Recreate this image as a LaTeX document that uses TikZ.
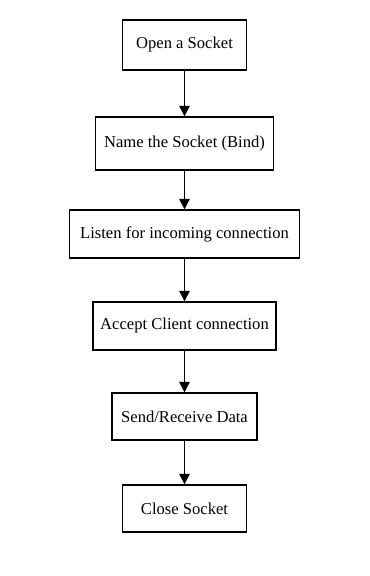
\documentclass[tikz,border=0pt]{standalone}
\usepackage{fontspec}
\setmainfont{Liberation Serif}
\usetikzlibrary{arrows.meta}

\tikzset{
  stepbox/.style={draw, rectangle, line width=1pt, minimum height=1.2cm, inner sep=2pt, font=\fontsize{11.8}{14}\selectfont},
  flow/.style={line width=1pt, -{Triangle[length=7.5pt,width=7.5pt]}}
}

\begin{document}
\begin{tikzpicture}
  \useasboundingbox (-4.6125,0) rectangle (4.6125,-14.4);
  \draw (0,-1.125) node[stepbox, minimum width=3.1cm, minimum height=1.25cm] (open) {Open a Socket};
  \draw (0,-3.5875) node[stepbox, minimum width=4.45cm, minimum height=1.325cm] (bind) {Name the Socket (Bind)};
  \draw (0,-5.85) node[stepbox, minimum width=5.75cm] (listen) {Listen for incoming connection};
  \draw (0,-8.15) node[stepbox, minimum width=4.575cm] (accept) {Accept Client connection};
  \draw (0,-10.4125) node[stepbox, minimum width=3.625cm, minimum height=1.175cm] (data) {Send/Receive Data};
  \draw (0,-12.7125) node[stepbox, minimum width=3.1cm, minimum height=1.175cm] (close) {Close Socket};

  \path[flow] (open) edge (bind);
  \path[flow] (bind) edge (listen);
  \path[flow] (listen) edge (accept);
  \path[flow] (accept) edge (data);
  \path[flow] (data) edge (close);
\end{tikzpicture}
\end{document}
